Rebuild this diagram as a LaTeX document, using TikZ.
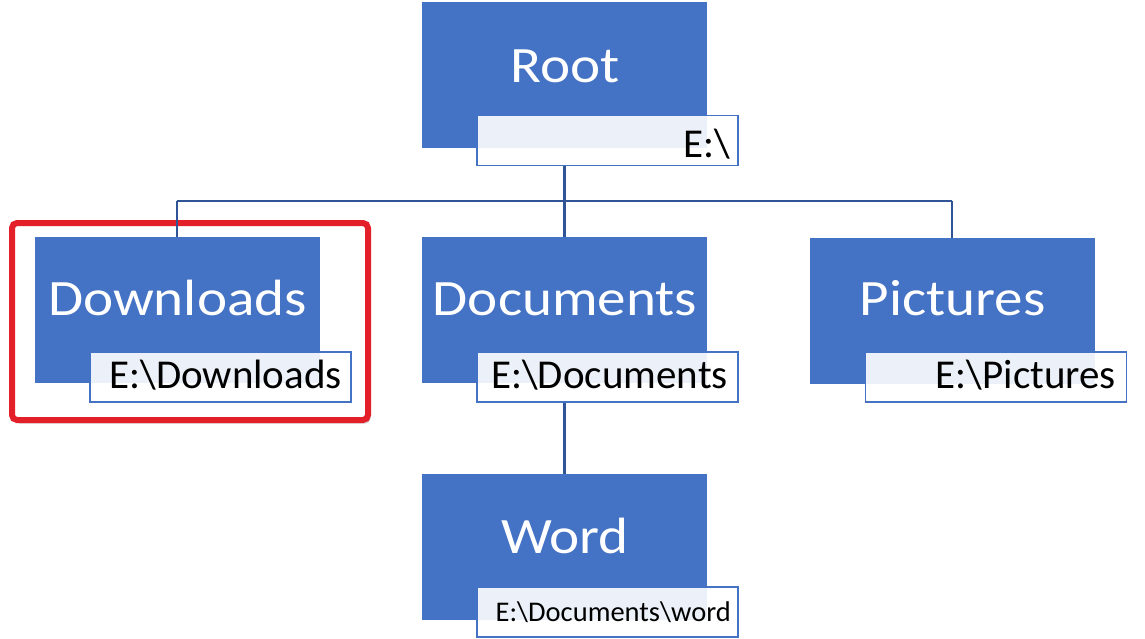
\documentclass[tikz,border=0pt]{standalone}
\usepackage{fontspec}
\setmainfont{Carlito}
\newfontfamily\bigfont[FakeStretch=1.12]{Carlito}
\usetikzlibrary{shadows}
\definecolor{boxblue}{HTML}{4472C4}
\definecolor{linkblue}{HTML}{2F5597}
\definecolor{hired}{HTML}{E3202A}
\tikzset{
  bluebox/.style={fill=boxblue, draw=none, inner sep=0pt, outer sep=0pt, minimum width=285pt, minimum height=146pt},
  lblbox/.style={fill=white, fill opacity=0.9, draw=boxblue, line width=1.6pt, inner sep=0pt, outer sep=0pt, minimum width=261pt, minimum height=50pt},
  bigtxt/.style={text=white, inner sep=0pt, anchor=base, font=\bigfont\fontsize{51}{55}\selectfont},
  lbltxt/.style={text=black, inner sep=0pt, anchor=base east, font=\fontsize{41}{45}\selectfont},
  smalllbltxt/.style={text=black, inner sep=0pt, anchor=base east, font=\fontsize{28.5}{32}\selectfont},
  link/.style={draw=linkblue, line width=2.2pt},
  hilite/.style={draw=hired, fill=white, line width=6pt, rounded corners=5pt, inner sep=0pt, outer sep=0pt,
    drop shadow={opacity=0.3, shadow xshift=2.5pt, shadow yshift=-3.5pt, fill=black!60}}
}
\begin{document}
\begin{tikzpicture}[x=1pt, y=-1pt]
\useasboundingbox[fill=white] (0,0) rectangle (1145,638);
% highlight (behind everything)
\node[hilite, minimum width=356pt, minimum height=197pt] (hl) at (190,321.5) {};
% boxes
\node[bluebox] (root) at (564.5,74.5) {};
\node[bluebox] (dl) at (177,310) {};
\node[bluebox] (doc) at (564.5,310) {};
\node[bluebox] (pic) at (952,310.5) {};
\node[bluebox] (word) at (564.5,546.5) {};
% bus coordinate
\coordinate (bus) at (564.5,201);
% connectors
\draw[link] (root.center |- 0,166) -- (doc.north);
\draw[link] (dl.north |- bus) -- (pic.north |- bus);
\draw[link] (dl.north |- bus) -- (dl.north);
\draw[link] (pic.north |- bus) -- (pic.north);
\draw[link] (doc.center |- 0,402) -- (word.north);
% label boxes
\node[lblbox] (rootlbl) at (607.5,140.5) {};
\node[lblbox] (dllbl) at (220.5,377) {};
\node[lblbox] (doclbl) at (607.5,377) {};
\node[lblbox] (piclbl) at (996,377) {};
\node[lblbox] (wordlbl) at (607.5,612) {};
% texts
\node[bigtxt] (roott) at (565,82) {Root};
\node[bigtxt] (dlt) at (177.5,315) {Downloads};
\node[bigtxt] (doct) at (565,315) {Documents};
\node[bigtxt] (pict) at (952.5,315) {Pictures};
\node[bigtxt] (wordt) at (565,553) {Word};
\node[lbltxt] (rootlt) at (731,157) {E:\textbackslash};
\node[lbltxt] (dllt) at (342,388) {E:\textbackslash Downloads};
\node[lbltxt] (doclt) at (728,388) {E:\textbackslash Documents};
\node[lbltxt] (piclt) at (1116,388) {E:\textbackslash Pictures};
\node[smalllbltxt] (wordlt) at (731,621) {E:\textbackslash Documents\textbackslash word};
\end{tikzpicture}
\end{document}
